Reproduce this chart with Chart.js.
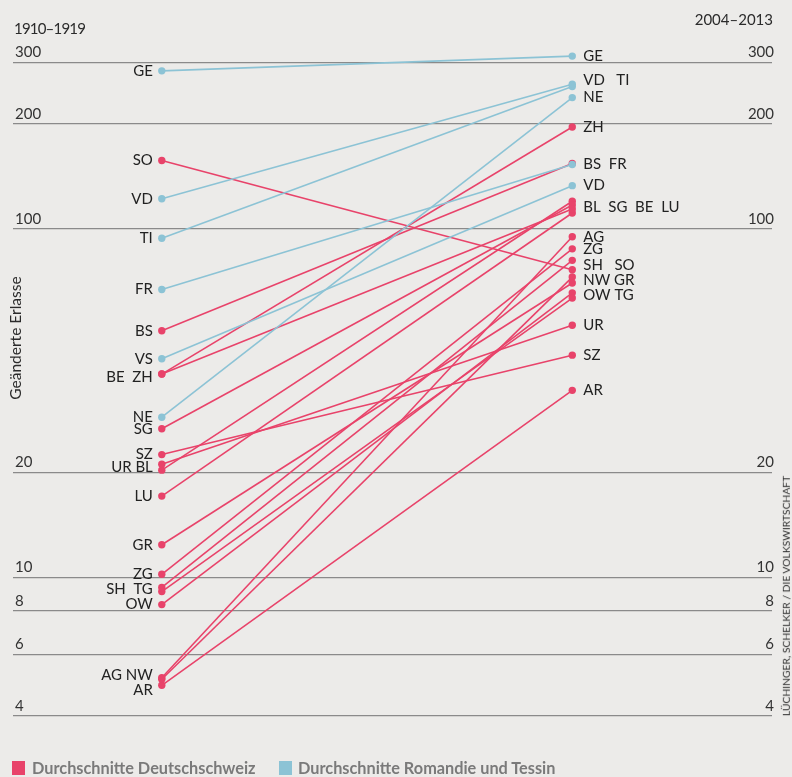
<!DOCTYPE html>
<html>
<head>
<meta charset="utf-8">
<script src="https://cdn.jsdelivr.net/npm/chart.js@4.4.0/dist/chart.umd.min.js"></script>
<style>
  body { margin: 0; background: #ecebe9; font-family: Lato, sans-serif; color: #2b2b2b; }
  #wrap { position: relative; width: 792px; height: 777px; overflow: hidden; }
  canvas { position: absolute; left: 0; top: 0; }
  .t { position: absolute; white-space: nowrap; line-height: 1; }
  .sq { position: absolute; width: 13px; height: 14px; }
  .lg { font-weight: bold; font-size: 16.3px; color: #7a7a7a; }
</style>
</head>
<body>
<div id="wrap">
  <canvas id="myChart" width="792" height="777"></canvas>
  <div class="t" id="periodLeft" style="left:14px; top:21px; font-size:15px; letter-spacing:-0.8px"></div>
  <div class="t" id="periodRight" style="right:19px; top:12px; font-size:15px"></div>
  <div class="t" id="yTitle" style="left:16px; top:338px; font-size:15.5px; transform:translate(-50%,-50%) rotate(-90deg)"></div>
  <div class="t" id="source" style="left:786px; top:596px; font-size:10.3px; transform:translate(-50%,-50%) rotate(-90deg)"></div>
  <div class="sq" id="sq0" style="left:12px; top:761px"></div>
  <div class="t lg" id="lg0" style="left:32px; top:760px"></div>
  <div class="sq" id="sq1" style="left:279px; top:761px"></div>
  <div class="t lg" id="lg1" style="left:298px; top:760px"></div>
</div>
<script>
// Kantone, Region (D = Deutschschweiz, R = Romandie und Tessin)
var cantons  = ['GE','VD','TI','FR','VS','NE','SO','BS','BE','ZH','SG','SZ','UR','BL','LU','GR','ZG','SH','TG','OW','AG','NW','AR'];
var regions  = ['R','R','R','R','R','R','D','D','D','D','D','D','D','D','D','D','D','D','D','D','D','D','D'];
// geänderte Erlasse, Durchschnitte
var values1910 = [284,122,94,67,42.4,28.8,157,51,38.3,38.3,26.7,22.5,21.1,20.3,17.1,12.4,10.2,9.35,9.1,8.35,5.15,5.1,4.9];
var values2004 = [313,260,256,153,133,238,76.3,154,114,196,117,43.4,52.9,120,111,69.9,87.6,81.2,63.3,65.5,94.9,72.7,34.4];
var tickValues = [4,6,8,10,20,100,200,300];
var periods = ['1910–1919','2004–2013'];
var legendLabels = ['Durchschnitte Deutschschweiz','Durchschnitte Romandie und Tessin'];
// Beschriftungen: [Text, Kantone]
var leftLabels = [['GE','GE'],['SO','SO'],['VD','VD'],['TI','TI'],['FR','FR'],['BS','BS'],['VS','VS'],['BE  ZH','BE ZH'],
  ['NE','NE'],['SG','SG'],['SZ','SZ'],['UR BL','UR BL'],['LU','LU'],['GR','GR'],['ZG','ZG'],['SH  TG','SH TG'],['OW','OW'],['AG NW','AG NW'],['AR','AR']];
var rightLabels = [['GE','GE'],['VD   TI','VD TI'],['NE','NE'],['ZH','ZH'],['BS  FR','BS FR'],['VD','VS'],['BL  SG  BE  LU','BL SG BE LU'],
  ['AG','AG'],['ZG','ZG'],['SH   SO','SH SO'],['NW GR','NW GR'],['OW TG','OW TG'],['UR','UR'],['SZ','SZ'],['AR','AR']];

var colors = { D: '#e8436a', R: '#8cc3d5' };
var nudgeLeft = { 'AR': 5, 'AG NW': -3, 'BE  ZH': 3 };
var nudgeRight = { 'VD   TI': -5 };

document.getElementById('periodLeft').textContent = periods[0];
document.getElementById('periodRight').textContent = periods[1];
document.getElementById('yTitle').textContent = 'Geänderte Erlasse';
document.getElementById('source').textContent = 'LÜCHINGER, SCHELKER / DIE VOLKSWIRTSCHAFT';
document.getElementById('sq0').style.background = colors.D;
document.getElementById('sq1').style.background = colors.R;
document.getElementById('lg0').textContent = legendLabels[0];
document.getElementById('lg1').textContent = legendLabels[1];

var labelPlugin = {
  id: 'cantonLabels',
  afterDatasetsDraw: function(chart) {
    var ctx = chart.ctx, x = chart.scales.x, y = chart.scales.y;
    ctx.save();
    ctx.font = '15px Lato';
    ctx.fillStyle = '#222';
    ctx.textBaseline = 'middle';
    [[leftLabels, values1910, 0, 'right', -9, nudgeLeft], [rightLabels, values2004, 1, 'left', 11, nudgeRight]].forEach(function(side) {
      ctx.textAlign = side[3];
      side[0].forEach(function(lab) {
        var ys = lab[1].split(' ').map(function(c) { return y.getPixelForValue(side[1][cantons.indexOf(c)]); });
        var py = ys.reduce(function(a, b) { return a + b; }, 0) / ys.length + (side[5][lab[0]] || 0);
        ctx.fillText(lab[0], x.getPixelForValue(side[2]) + side[4], py);
      });
    });
    ctx.restore();
  }
};

function setTicks(scale) {
  scale.ticks = tickValues.map(function(v) { return { value: v }; });
}

var yAxis = {
  type: 'logarithmic',
  min: 4,
  max: 400,
  afterBuildTicks: setTicks,
  border: { display: false },
  grid: { color: '#8a8a8a', lineWidth: 1.3, drawTicks: false },
  ticks: { mirror: true, padding: 2, labelOffset: -10, color: '#333', font: { family: 'Lato', size: 15 },
    callback: function(v) { return String(v); } }
};

var ctx = document.getElementById('myChart');
var myChart = new Chart(ctx, {
  type: 'line',
  data: {
    datasets: cantons.map(function(c, i) {
      var col = colors[regions[i]];
      return {
        label: c,
        data: [{ x: 0, y: values1910[i] }, { x: 1, y: values2004[i] }],
        borderColor: col,
        backgroundColor: col,
        borderWidth: 1.6,
        pointRadius: 3.7,
        pointBorderWidth: 0
      };
    })
  },
  options: {
    responsive: false,
    animation: false,
    layout: { padding: { left: 9, right: 8, top: 19, bottom: 61 } },
    plugins: { legend: { display: false }, tooltip: { enabled: false } },
    scales: {
      x: { type: 'linear', min: -0.3625, max: 1.4866, display: false },
      y: Object.assign({}, yAxis, { position: 'left' }),
      y2: Object.assign({}, yAxis, { position: 'right', grid: { display: false } })
    }
  },
  plugins: [labelPlugin]
});
</script>
</body>
</html>
